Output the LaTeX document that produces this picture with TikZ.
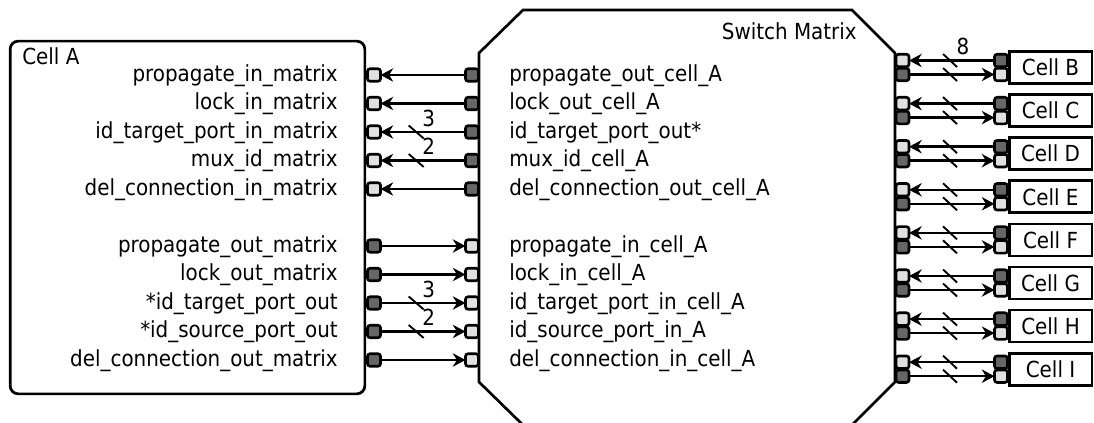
\documentclass[tikz,border=0pt]{standalone}
\usepackage{fontspec}
\setmainfont{DejaVu Sans Condensed}
\usetikzlibrary{arrows.meta,calc}
\definecolor{lp}{HTML}{E0E0E0}
\definecolor{dp}{HTML}{666666}
\begin{document}
\begin{tikzpicture}[x=0.75pt,y=-0.75pt,font=\fontsize{16.6}{19}\selectfont,
  port/.style={draw,line width=2pt,rounded corners=2pt,minimum width=9.8pt,minimum height=9.4pt,inner sep=0pt,outer sep=0pt},
  lport/.style={port,fill=lp},
  dport/.style={port,fill=dp},
  arr/.style={line width=1.9pt,-{Stealth[length=9.5pt,width=10pt]}},
  slashl/.style={line width=1.4pt},
  lbl/.style={inner sep=0pt},
  cellbox/.style={draw,line width=2pt,minimum width=62pt,minimum height=24pt,inner sep=0pt}]
\useasboundingbox (0,0) rectangle (1094,423);
\clip (0,0) rectangle (1094,423);
% Cell A
\node[draw,line width=2pt,rounded corners=6pt,minimum width=266pt,minimum height=264.5pt,inner sep=0pt] (cellA) at (187.5,217.5) {};
\node[lbl,anchor=base west] (cellAt) at (22,65) {Cell A};
% Switch matrix
\draw[line width=2pt] (523,10) -- (852,10) -- (895,53) -- (895,382) -- (852,425) -- (523,425) -- (479,382) -- (479,53) -- cycle;
\node[lbl,anchor=base east] (smt) at (857,40) {Switch Matrix};
% upper group
\foreach \a/\m [count=\i from 0] in {propagate\_in\_matrix/propagate\_out\_cell\_A,lock\_in\_matrix/lock\_out\_cell\_A,id\_target\_port\_in\_matrix/id\_target\_port\_out*,mux\_id\_matrix/mux\_id\_cell\_A,del\_connection\_in\_matrix/del\_connection\_out\_cell\_A}{
  \pgfmathsetmacro\ry{75+28.5*\i}
  \node[lbl,anchor=base east] (ua\i) at (338,\ry+6.5) {\a};
  \node[lbl,anchor=base west] (um\i) at (509,\ry+6.5) {\m};
  \node[lport] (aU\i) at (374,\ry) {};
  \node[dport] (mU\i) at (472,\ry) {};
  \draw[arr] (mU\i.west) -- (aU\i.east);
}
% lower group
\foreach \a/\m [count=\i from 0] in {propagate\_out\_matrix/propagate\_in\_cell\_A,lock\_out\_matrix/lock\_in\_cell\_A,*id\_target\_port\_out/id\_target\_port\_in\_cell\_A,*id\_source\_port\_out/id\_source\_port\_in\_A,del\_connection\_out\_matrix/del\_connection\_in\_cell\_A}{
  \pgfmathsetmacro\ry{246+28.5*\i}
  \node[lbl,anchor=base east] (la\i) at (338,\ry+6.5) {\a};
  \node[lbl,anchor=base west] (lm\i) at (509,\ry+6.5) {\m};
  \node[dport] (aL\i) at (374,\ry) {};
  \node[lport] (mL\i) at (472,\ry) {};
  \draw[arr] (aL\i.east) -- (mL\i.west);
}
% bus slashes left
\foreach \p/\q/\n/\t in {aU2/mU2/u3/3,aU3/mU3/u2/2,aL2/mL2/l3/3,aL3/mL3/l2/2}{
  \draw[slashl] ($(\p.east)!0.42!(\q.west)$) ++(-7.5,-6.5) -- ++(15,13);
  \path ($(\p.east)!0.42!(\q.west)$) ++(12.5,-14) node[lbl] (n\n) {\t};
}
% right cells
\foreach \L [count=\k from 0] in {B,C,D,E,F,G,H,I}{
  \pgfmathsetmacro\yc{67.5+43.1*\k}
  \node[cellbox] (cell\L) at (1050.5,\yc) {Cell \L};
  \node[lport] (sl\L) at (902.5,\yc-7) {};
  \node[dport] (sd\L) at (902.5,\yc+7) {};
  \node[dport] (cd\L) at (1001,\yc-7) {};
  \node[lport] (cl\L) at (1001,\yc+7) {};
  \draw[arr] (cd\L.west) -- (sl\L.east);
  \draw[arr] (sd\L.east) -- (cl\L.west);
  \draw[slashl] ($(sl\L.east)!0.48!(cd\L.west)$) ++(-7,-6.5) -- ++(14,13);
  \draw[slashl] ($(sd\L.east)!0.48!(cl\L.west)$) ++(-7,-6.5) -- ++(14,13);
}
\path ($(slB.east)!0.48!(cdB.west)$) ++(13,-14) node[lbl] (n8) {8};
\end{tikzpicture}
\end{document}
